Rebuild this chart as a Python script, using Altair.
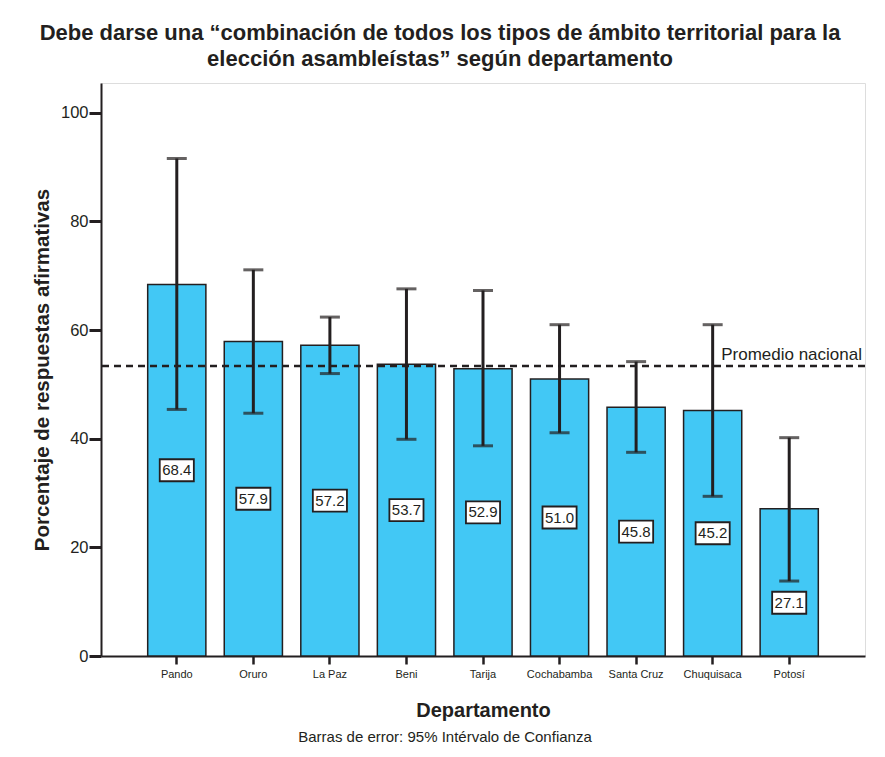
import altair as alt
import pandas as pd

departamentos = ["Pando", "Oruro", "La Paz", "Beni", "Tarija", "Cochabamba",
                 "Santa Cruz", "Chuquisaca", "Potosí"]
valores = [68.4, 57.9, 57.2, 53.7, 52.9, 51.0, 45.8, 45.2, 27.1]
ic_sup = [91.6, 71.1, 62.4, 67.6, 67.3, 61.0, 54.2, 61.0, 40.2]
ic_inf = [45.4, 44.7, 52.0, 39.9, 38.7, 41.1, 37.5, 29.4, 13.8]
promedio_nacional = 53.4

df = pd.DataFrame({"dep": departamentos, "v": valores, "hi": ic_sup, "lo": ic_inf})
df_avg = pd.DataFrame({"avg": [promedio_nacional], "lab": ["Promedio nacional"]})
df_note = pd.DataFrame({"t": ["Barras de error: 95% Intérvalo de Confianza"]})

FONT = "Liberation Sans"
DARK = "#231f20"
W, H = 764, 573

x = alt.X("dep:N", sort=departamentos,
          scale=alt.Scale(paddingInner=0.24, paddingOuter=0.61),
          axis=alt.Axis(title="Departamento", labelAngle=0, labelFontSize=11,
                        labelFont=FONT, labelColor=DARK, labelPadding=4,
                        tickSize=8, tickWidth=2.5, tickColor=DARK, tickBand="center",
                        domainColor=DARK, domainWidth=2,
                        titleFont=FONT, titleFontSize=20, titleFontWeight="bold",
                        titleColor=DARK, titleY=60, titleBaseline="alphabetic"))

yscale = alt.Scale(domain=[0, 105.5], nice=False)

base = alt.Chart(df)

bars = base.mark_bar(color="#42c8f5", stroke=DARK, strokeWidth=1.5).encode(
    x=x,
    y=alt.Y("v:Q", scale=yscale,
            axis=alt.Axis(title="Porcentaje de respuestas afirmativas",
                          values=[0, 20, 40, 60, 80, 100], grid=False,
                          labelFontSize=16.5, labelFont=FONT, labelColor=DARK,
                          labelPadding=1, tickSize=12, tickWidth=3, tickColor=DARK,
                          domainColor=DARK, domainWidth=2,
                          titleFont=FONT, titleFontSize=20.5, titleFontWeight="bold",
                          titleColor=DARK, titleX=-59, titleBaseline="middle")),
)

rules = base.mark_rule(color=DARK, strokeWidth=3).encode(
    x=alt.X("dep:N", sort=departamentos), y="lo:Q", y2="hi:Q")
cap_hi = base.mark_tick(color=DARK, size=20, thickness=3).encode(
    x=alt.X("dep:N", sort=departamentos), y="hi:Q")
cap_lo = base.mark_tick(color=DARK, size=20, thickness=3).encode(
    x=alt.X("dep:N", sort=departamentos), y="lo:Q")

lab_base = base.transform_calculate(pos="min(datum.v/2, datum.lo-4)")
boxes = lab_base.mark_point(shape="M-1.55,-1H1.55V1H-1.55Z", filled=True, fill="white",
                            stroke=DARK, strokeWidth=1.8, opacity=1, size=484).encode(
    x=alt.X("dep:N", sort=departamentos), y="pos:Q")
labels = lab_base.mark_text(font=FONT, fontSize=15, color=DARK, baseline="middle").encode(
    x=alt.X("dep:N", sort=departamentos), y="pos:Q",
    text=alt.Text("v:Q", format=".1f"))

avg_line = alt.Chart(df_avg).mark_rule(color=DARK, strokeWidth=2.5, strokeDash=[7, 5]).encode(
    y="avg:Q")
avg_text = alt.Chart(df_avg).mark_text(font=FONT, fontSize=17, color=DARK, align="right",
                                       baseline="alphabetic", dy=-6).encode(
    x=alt.value(W - 3), y="avg:Q", text="lab:N")

note = alt.Chart(df_note).mark_text(font=FONT, fontSize=15, color=DARK, baseline="middle").encode(
    x=alt.value(344), y=alt.value(H + 81), text="t:N")

chart = alt.layer(bars, rules, cap_hi, cap_lo, avg_line, avg_text, boxes, labels, note).properties(
    width=W, height=H,
    autosize=alt.AutoSizeParams(type="none"),
    padding={"left": 93, "top": 75, "right": 12, "bottom": 90},
    title=alt.TitleParams(
        ["Debe darse una “combinación de todos los tipos de ámbito territorial para la",
         "elección asambleístas” según departamento"],
        font=FONT, fontSize=22, fontWeight="bold", color=DARK, anchor="middle",
        dx=-43, offset=12, lineHeight=26),
).configure_view(
    fill="#edf8fd", stroke=DARK, strokeWidth=1.5
).configure(background="white")

chart.save("out.html", embed_options={"renderer": "svg", "actions": False})
